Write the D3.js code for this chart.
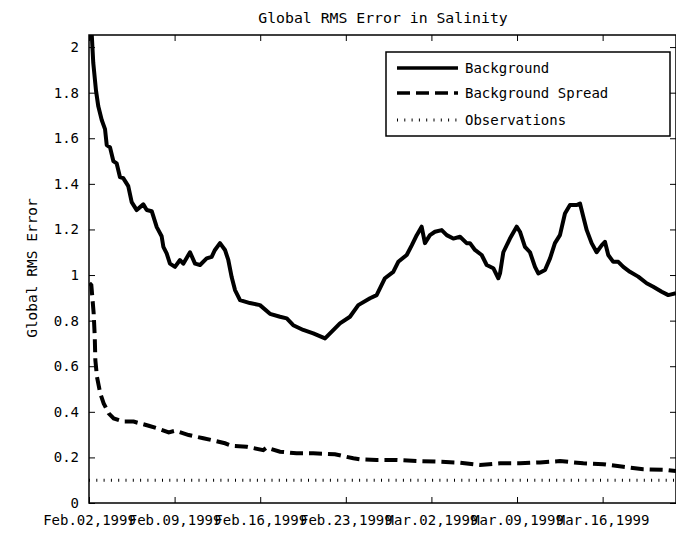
<!DOCTYPE html>
<html lang="en">
<head>
<meta charset="utf-8">
<title>Global RMS Error in Salinity</title>
<script src="https://d3js.org/d3.v7.min.js"></script>
<style>
body { margin: 0; background: #fff; }
text { font-family: "DejaVu Sans Mono", monospace; font-size: 14px; fill: #000; }
.frame { fill: none; stroke: #000; stroke-width: 1.5px; }
.line { fill: none; stroke: #000; }
</style>
</head>
<body>
<svg width="676" height="534"></svg>
<script>
// days after Feb 02 1999 and values
var bgDays = [0, 0.22, 0.35, 0.57, 0.76, 1.04, 1.31, 1.45, 1.72, 1.99, 2.26, 2.53, 2.80, 3.21, 3.49, 3.90,
  4.44, 4.72, 5.13, 5.54, 5.94, 6.08, 6.35, 6.62, 7.03, 7.44, 7.71, 8.26, 8.67, 9.08, 9.62, 10.03,
  10.30, 10.71, 11.12, 11.39, 11.67, 11.94, 12.35, 13.16, 13.98, 14.80, 15.62, 16.17, 16.70, 17.52,
  18.34, 19.30, 19.71, 20.52, 21.34, 22.02, 22.98, 23.52, 24.20, 24.88, 25.29, 25.98, 26.39, 26.80,
  27.20, 27.47, 27.88, 28.29, 28.84, 29.25, 29.79, 30.34, 30.88, 31.15, 31.56, 32.11, 32.52, 33.06,
  33.47, 33.61, 33.88, 34.42, 34.97, 35.24, 35.65, 36.06, 36.47, 36.74, 37.29, 37.70, 38.10, 38.51,
  38.92, 39.33, 39.88, 40.15, 40.42, 40.70, 41.10, 41.51, 41.92, 42.19, 42.46, 42.87, 43.28, 43.69,
  44.23, 44.91, 45.60, 46.14, 46.83, 47.37, 48.0];
var bgValues = [2.2, 2.06, 1.93, 1.81, 1.74, 1.68, 1.64, 1.57, 1.56, 1.50, 1.49, 1.43, 1.425, 1.39, 1.32, 1.285,
  1.31, 1.285, 1.28, 1.21, 1.17, 1.124, 1.095, 1.05, 1.036, 1.066, 1.05, 1.10, 1.05, 1.044, 1.073, 1.08,
  1.11, 1.14, 1.11, 1.066, 0.99, 0.934, 0.89, 0.877, 0.868, 0.83, 0.817, 0.81, 0.78, 0.759,
  0.744, 0.722, 0.744, 0.788, 0.817, 0.868, 0.898, 0.912, 0.986, 1.014, 1.058, 1.088, 1.13, 1.175,
  1.212, 1.14, 1.175, 1.19, 1.197, 1.175, 1.16, 1.168, 1.14, 1.14, 1.11, 1.088, 1.044, 1.03,
  0.986, 1.007, 1.10, 1.16, 1.212, 1.19, 1.124, 1.10, 1.036, 1.007, 1.022, 1.073, 1.14, 1.175,
  1.27, 1.307, 1.307, 1.314, 1.256, 1.197, 1.14, 1.10, 1.13, 1.146, 1.088, 1.058, 1.058, 1.036,
  1.014, 0.993, 0.964, 0.949, 0.927, 0.912, 0.92];

var spreadDays = [0.04, 0.19, 0.38, 0.47, 0.52, 0.65, 0.92, 1.20, 1.61, 2.02, 2.84, 3.65, 4.88, 5.56, 6.52,
  7.06, 8.15, 9.35, 10.03, 11.12, 11.67, 12.89, 14.25, 14.53, 15.62, 16.98, 18.34, 20.11, 21.61, 22.16,
  23.52, 25.16, 26.93, 28.70, 30.34, 31.97, 33.61, 35.24, 36.88, 38.51, 40.42, 42.05, 43.69, 45.32,
  47.24, 48.0];
var spreadValues = [0.965, 0.956, 0.833, 0.73, 0.627, 0.554, 0.481, 0.437, 0.393, 0.371, 0.357, 0.357, 0.339, 0.328, 0.31,
  0.317, 0.298, 0.284, 0.276, 0.262, 0.251, 0.247, 0.232, 0.243, 0.225, 0.218, 0.218, 0.214, 0.196, 0.192,
  0.189, 0.189, 0.184, 0.181, 0.177, 0.167, 0.174, 0.174, 0.178, 0.184, 0.174, 0.17, 0.159, 0.148,
  0.145, 0.14];

var obsDays = [0, 48];
var obsValues = [0.1, 0.1];

var yTicks = [0, 0.2, 0.4, 0.6, 0.8, 1, 1.2, 1.4, 1.6, 1.8, 2];
var xTickDays = [0, 7, 14, 21, 28, 35, 42];

var legendNames = ["Background", "Background Spread", "Observations"];

var svg = d3.select("svg");
var margin = {top: 35, right: 0, bottom: 31, left: 89};
var width = +svg.attr("width") - margin.left - margin.right;
var height = +svg.attr("height") - margin.top - margin.bottom;

var start = new Date(1999, 1, 2);
var toDate = d => new Date(start.getTime() + d * 864e5);

var x = d3.scaleTime().domain([toDate(0), toDate(48)]).range([0, width]);
var y = d3.scaleLinear().domain([0, 2.053]).range([height, 0]);

var g = svg.append("g").attr("transform", `translate(${margin.left},${margin.top})`);

svg.append("text")
    .attr("x", 383).attr("y", 23)
    .attr("text-anchor", "middle")
    .style("font-size", "14.8px")
    .text("Global RMS Error in Salinity");

svg.append("text")
    .attr("transform", "translate(37,268) rotate(-90)")
    .attr("text-anchor", "middle")
    .style("font-size", "14.5px")
    .text("Global RMS Error");

g.append("clipPath").attr("id", "plot")
  .append("rect").attr("width", width).attr("height", height);

var fmt = d3.timeFormat("%b.%d,%Y");

var xAxis = g.append("g")
    .attr("transform", `translate(0,${height})`)
    .call(d3.axisBottom(x).tickValues(xTickDays.map(toDate)).tickSize(-6).tickPadding(12).tickFormat(fmt));
var xTop = g.append("g")
    .call(d3.axisTop(x).tickValues(xTickDays.map(toDate)).tickSize(-6).tickFormat(""));
var yAxis = g.append("g")
    .call(d3.axisLeft(y).tickValues(yTicks).tickSize(-6).tickPadding(10).tickFormat(d => d));
var yRight = g.append("g")
    .attr("transform", `translate(${width},0)`)
    .call(d3.axisRight(y).tickValues(yTicks).tickSize(-6).tickFormat(""));

[xAxis, xTop, yAxis, yRight].forEach(a => {
  a.select(".domain").remove();
  a.selectAll(".tick line").attr("stroke", "#000").attr("stroke-width", 1);
  a.selectAll("text").attr("font-family", null).attr("font-size", null);
});

g.append("rect").attr("class", "frame").attr("width", width).attr("height", height);

function series(days, vals) {
  return days.map((d, i) => ({date: toDate(d), v: vals[i]}));
}

var line = d3.line().x(d => x(d.date)).y(d => y(d.v));

var plot = g.append("g").attr("clip-path", "url(#plot)");

plot.append("path").datum(series(obsDays, obsValues))
    .attr("class", "line").attr("stroke-width", 3).attr("stroke-dasharray", "1,6.3")
    .attr("d", line);
plot.append("path").datum(series(spreadDays, spreadValues))
    .attr("class", "line").attr("stroke-width", 4).attr("stroke-dasharray", "13,6")
    .attr("d", line);
plot.append("path").datum(series(bgDays, bgValues))
    .attr("class", "line").attr("stroke-width", 4).attr("stroke-linejoin", "round")
    .attr("d", line);

// legend
var lg = svg.append("g");
lg.append("rect").attr("class", "frame").attr("x", 386).attr("y", 52).attr("width", 284).attr("height", 84);
var styles = [{w: 3.5, dash: null}, {w: 3.5, dash: "13,6"}, {w: 3, dash: "1,6.3"}];
var rowY = [68, 93, 120];
legendNames.forEach((name, i) => {
  lg.append("line").attr("class", "line")
      .attr("x1", 397).attr("x2", 458).attr("y1", rowY[i]).attr("y2", rowY[i])
      .attr("stroke-width", styles[i].w).attr("stroke-dasharray", styles[i].dash);
  lg.append("text").attr("x", 465).attr("y", rowY[i]).attr("dy", "0.35em").text(name);
});
</script>
</body>
</html>
